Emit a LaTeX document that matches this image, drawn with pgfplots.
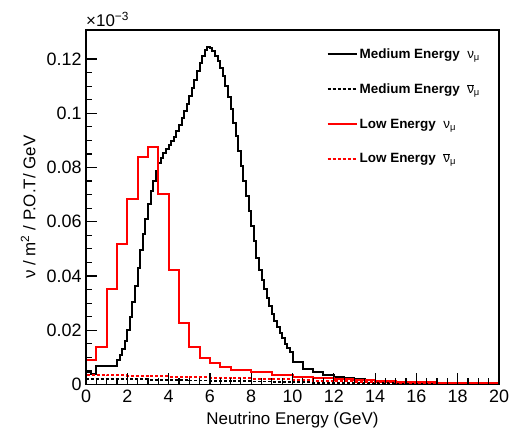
\documentclass[border=0pt]{standalone}
\usepackage{fontspec}
\setmainfont{Liberation Sans}
\usepackage{pgfplots}
\pgfplotsset{compat=1.18}
\definecolor{rootred}{RGB}{255,0,0}
\begin{document}
\begin{tikzpicture}
\path[use as bounding box] (-86bp,-49.5bp) rectangle (426bp,384.5bp);
\begin{axis}[
  at={(0,0)}, anchor=south west,
  scale only axis, width=413bp, height=354.5bp,
  xmin=0, xmax=20, ymin=0, ymax=0.1307,
  xtick={0,2,4,6,8,10,12,14,16,18,20},
  ytick={0,0.02,0.04,0.06,0.08,0.1,0.12},
  minor x tick num=3, minor y tick num=3,
  tick pos=left, tick align=inside,
  major tick length=11bp, minor tick length=6bp,
  every tick/.style={black, line width=1.2bp},
  axis line style={line width=1.4bp},
  scaled y ticks=false,
  clip mode=individual,
  /pgf/number format/assume math mode=true,
  yticklabel style={/pgf/number format/fixed, /pgf/number format/precision=2},
  tick label style={font=\fontsize{18}{20}\selectfont},
  xticklabel style={yshift=-2bp},
  yticklabel style={xshift=-1bp},
  xlabel={Neutrino Energy (GeV)},
  ylabel={ν / m\textsuperscript{2} / P.O.T/ GeV},
  every axis x label/.style={at={(axis description cs:0.5,-0.100)}, anchor=center, font=\fontsize{17}{19}\selectfont},
  every axis y label/.style={at={(axis description cs:-0.140,0.5)}, rotate=90, anchor=center, font=\fontsize{17}{19}\selectfont},
  axis on top,
  legend cell align=left,
  legend style={at={(0.575,0.96)}, anchor=north west, draw=none, fill=none,
    font=\bfseries\fontsize{13.5}{15}\selectfont, row sep=20bp,
    /tikz/every even column/.append style={column sep=5bp}},
  legend image code/.code={\draw[#1] (0bp,0bp) -- (29bp,0bp);},
]
% Medium energy nu_mu
\addplot[black, line width=2bp, const plot mark left] coordinates {
(0,0) (0,0.0047) (0.125,0.0047) (0.25,0.0039) (0.375,0.0039) (0.5,0.0068) (0.625,0.0068)
(0.75,0.0068) (0.875,0.0068) (1,0.0069) (1.125,0.0069) (1.25,0.0068) (1.375,0.0069)
(1.5,0.0090) (1.625,0.0110) (1.75,0.0130) (1.875,0.0160) (2,0.0200) (2.125,0.0250)
(2.25,0.0305) (2.375,0.0365) (2.5,0.0430) (2.625,0.0495) (2.75,0.0555) (2.875,0.0610)
(3,0.0665) (3.125,0.0712) (3.25,0.0752) (3.375,0.0788) (3.5,0.0815) (3.625,0.0836)
(3.75,0.0854) (3.875,0.0870) (4,0.0884) (4.125,0.0898) (4.25,0.0914) (4.375,0.0934)
(4.5,0.0958) (4.625,0.0984) (4.75,0.1010) (4.875,0.1036) (5,0.1064) (5.125,0.1094)
(5.25,0.1124) (5.375,0.1154) (5.5,0.1184) (5.625,0.1212) (5.75,0.1234) (5.875,0.1244)
(6,0.1240) (6.125,0.1228) (6.25,0.1212) (6.375,0.1192) (6.5,0.1166) (6.625,0.1136)
(6.75,0.1100) (6.875,0.1060) (7,0.1015) (7.125,0.0965) (7.25,0.0915) (7.375,0.0860)
(7.5,0.0805) (7.625,0.0750) (7.75,0.0695) (7.875,0.0640) (8,0.0585) (8.125,0.0530)
(8.25,0.0465) (8.375,0.0422) (8.5,0.0385) (8.625,0.0352) (8.75,0.0320) (8.875,0.0290)
(9,0.0261) (9.125,0.0235) (9.25,0.0211) (9.375,0.0190) (9.5,0.0170) (9.625,0.0151)
(9.75,0.0134) (9.875,0.0118)
(10,0.0084) (10.5,0.0058) (11,0.0045) (11.5,0.0035) (12,0.0029) (12.5,0.0025)
(13,0.0020) (13.5,0.0017) (14,0.0014) (14.5,0.0012) (15,0.0010) (15.5,0.0009)
(16,0.0008) (16.5,0.0007) (17,0.0006) (17.5,0.0005) (18,0.0005) (18.5,0.0004)
(19,0.0004) (19.5,0.0003) (20,0.0003)
};
\addlegendentry{Medium Energy\ \ {\mdseries ν\textsubscript{μ}}}
% Medium energy anti nu_mu
\addplot[black, line width=1.8bp, dash pattern=on 3bp off 2bp, const plot mark left] coordinates {
(0,0) (0,0.0020) (1,0.0020) (2,0.0019) (3,0.0018) (4,0.0017) (5,0.0015) (6,0.0014)
(7,0.0012) (8,0.0011) (9,0.0009) (10,0.0008) (11,0.0007) (12,0.0006) (13,0.0006)
(14,0.0005) (15,0.0004) (16,0.0004) (17,0.0003) (18,0.0003) (19,0.0003) (20,0.0003)
};
\addlegendentry{Medium Energy\ \ {\mdseries \ensuremath{\overline{\mbox{ν}}}\textsubscript{μ}}}
% Low energy nu_mu
\addplot[rootred, line width=2bp, const plot mark left] coordinates {
(0,0) (0,0.0090) (0.5,0.0139) (1,0.0352) (1.5,0.0518) (2,0.0683) (2.5,0.0839)
(3,0.0874) (3.5,0.0702) (4,0.0423) (4.5,0.0228) (5,0.0139) (5.5,0.0099) (6,0.0078)
(6.5,0.0066) (7,0.0055) (8,0.0045) (9,0.0036) (10,0.0029) (11,0.0024) (12,0.0019)
(13,0.0015) (14,0.0012) (15,0.0010) (16,0.0008) (17,0.0007) (18,0.0006) (19,0.0005)
(20,0.0005)
};
\addlegendentry{Low Energy\ \ {\mdseries ν\textsubscript{μ}}}
% Low energy anti nu_mu
\addplot[rootred, line width=1.8bp, dash pattern=on 3bp off 2bp, const plot mark left] coordinates {
(0,0) (0,0.0035) (1,0.0034) (2,0.0032) (3,0.0030) (4,0.0029) (5,0.0027) (6,0.0025)
(7,0.0023) (8,0.0021) (9,0.0019) (10,0.0017) (11,0.0014) (12,0.0012) (13,0.0010)
(14,0.0008) (15,0.0007) (16,0.0005) (17,0.0004) (18,0.0004) (19,0.0003) (20,0.0003)
};
\addlegendentry{Low Energy\ \ {\mdseries \ensuremath{\overline{\mbox{ν}}}\textsubscript{μ}}}
\node[anchor=south west, font=\fontsize{17}{19}\selectfont, inner sep=0pt] at (axis description cs:0,1.008) {×10\textsuperscript{−3}};
\end{axis}
\end{tikzpicture}
\end{document}
